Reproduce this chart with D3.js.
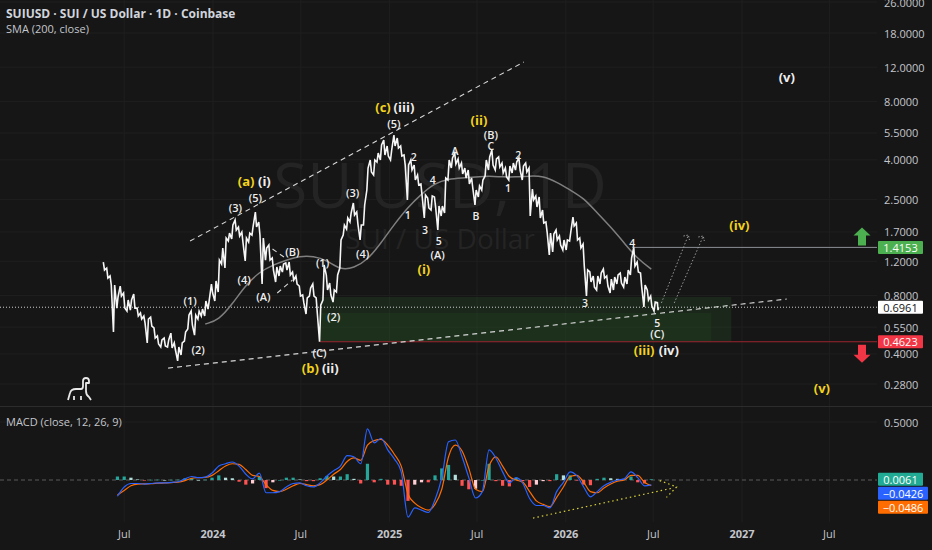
<!DOCTYPE html>
<html><head><meta charset="utf-8">
<script src="https://cdn.jsdelivr.net/npm/d3@7"></script>
<style>html,body{margin:0;padding:0;background:#161616;}svg{display:block}</style>
</head><body><svg id="c" width="932" height="550"></svg>
<script>
// ---------- DATA ----------
const startWeek = "2023-05-20"; // first weekly bar
const weekHigh = [1.190,1.108,1.008,0.906,0.786,0.895,0.824,0.758,0.758,0.814,
0.689,0.650,0.627,0.605,0.619,0.544,0.495,0.472,0.483,0.472,
0.512,0.456,0.434,0.456,0.519,0.634,0.665,0.634,0.665,0.681,
0.749,0.758,0.917,0.950,1.218,1.405,1.582,1.678,1.845,1.958,
1.802,1.698,1.582,1.678,1.824,2.153,1.912,1.582,1.405,1.456,
1.248,1.121,1.134,1.162,1.176,1.190,1.057,1.008,0.895,0.805,
0.777,0.874,0.917,0.777,0.714,1.148,1.020,0.927,0.854,1.020,
1.545,1.845,2.006,2.128,2.396,2.153,1.845,2.340,3.629,3.990,
3.990,4.336,4.768,5.059,4.712,4.493,5.368,5.180,4.712,4.235,
3.761,3.990,3.761,3.340,3.002,2.634,2.542,2.603,2.573,2.313,
2.313,3.224,3.990,4.087,4.336,4.039,3.851,3.629,3.544,3.224,
2.795,2.932,3.148,3.990,4.135,4.493,4.039,4.135,3.851,3.629,
3.716,3.851,3.897,4.087,3.716,3.851,3.629,2.830,2.603,2.573,
2.205,1.912,1.678,1.658,1.739,1.620,1.545,1.545,1.698,2.029,
1.890,1.582,1.473,1.082,1.057,1.008,1.008,1.044,1.095,1.008,
0.972,0.996,1.020,1.044,0.996,1.082,1.248,1.4153,1.190,1.044,
0.906,0.854,0.795,0.740,0.735];
const weekLow = [1.082,0.984,0.906,0.519,0.689,0.795,0.689,0.665,0.673,0.689,
0.627,0.605,0.577,0.456,0.557,0.483,0.450,0.434,0.440,0.434,
0.429,0.419,0.368,0.395,0.466,0.538,0.564,0.500,0.605,0.627,
0.627,0.681,0.824,0.749,0.834,1.162,1.108,1.527,1.563,1.739,
1.620,1.491,1.204,1.509,1.639,1.802,1.639,0.917,1.218,1.218,
1.082,0.939,1.008,1.057,1.082,1.020,0.961,0.917,0.795,0.732,
0.642,0.795,0.795,0.642,0.4623,0.758,0.854,0.805,0.740,0.834,
1.108,1.639,1.760,1.912,2.078,1.867,1.545,1.845,2.795,3.461,
3.340,3.897,3.990,4.235,4.185,3.990,4.712,4.602,4.185,3.761,
2.483,3.544,3.148,2.967,2.603,2.006,2.259,2.205,2.285,1.739,
2.054,2.128,3.148,3.629,3.805,3.629,3.380,3.224,3.002,2.863,
2.340,2.573,2.795,3.301,3.544,3.761,3.544,3.672,3.420,3.262,
3.148,3.420,3.544,3.544,3.148,3.461,2.054,2.483,2.285,2.006,
1.890,1.698,1.293,1.340,1.545,1.456,1.372,1.372,1.527,1.824,
1.545,1.405,1.134,0.795,0.939,0.884,0.854,0.917,0.984,0.895,
0.824,0.854,0.917,0.927,0.884,0.917,1.020,1.134,1.057,0.884,
0.698,0.758,0.706,0.665,0.672];
const lastClose = 0.6961;

const smaStartWeek = 30, smaStep = 4;
const sma200 = [0.570,0.598,0.723,0.906,1.057,1.148,1.218,1.278,1.278,1.218,
1.082,1.108,1.218,1.491,1.867,2.285,2.666,3.038,3.186,3.224,
3.262,3.301,3.262,3.262,3.301,3.301,3.074,2.795,2.542,2.128,
1.802,1.491,1.233,1.095];

const macdStartWeek = 4, macdStep = 2;
const macdLine = [-0.14,-0.06,-0.03,-0.03,-0.035,-0.03,-0.025,-0.025,-0.02,-0.015,
0.01,0.03,0.02,0.025,0.06,0.12,0.14,0.155,0.12,0.05,
0.01,0.06,-0.11,-0.11,-0.10,-0.06,-0.03,-0.025,-0.05,-0.06,
-0.025,0.035,0.08,0.12,0.21,0.20,0.14,0.44,0.32,0.36,
0.26,0.18,0.07,-0.32,-0.24,-0.26,-0.28,-0.17,0.02,0.33,
0.345,0.20,0.02,-0.155,-0.10,0.26,0.19,0.07,-0.025,0.02,
-0.03,-0.16,-0.22,-0.22,-0.24,-0.10,-0.02,0.07,0.035,-0.06,
-0.145,-0.10,-0.05,-0.02,0.0,0.01,0.07,0.02,-0.05,-0.0426];
const signalLine = [-0.13,-0.09,-0.05,-0.035,-0.033,-0.032,-0.028,-0.025,-0.022,-0.018,
-0.005,0.015,0.02,0.022,0.04,0.08,0.12,0.14,0.135,0.09,
0.04,0.03,-0.04,-0.09,-0.10,-0.08,-0.05,-0.03,-0.04,-0.05,
-0.04,0.0,0.05,0.09,0.16,0.19,0.17,0.30,0.34,0.35,
0.30,0.22,0.12,-0.12,-0.20,-0.24,-0.26,-0.21,-0.08,0.20,
0.30,0.25,0.10,-0.08,-0.10,0.12,0.20,0.12,0.03,0.0,
-0.02,-0.10,-0.18,-0.21,-0.23,-0.15,-0.06,0.03,0.04,-0.02,
-0.10,-0.11,-0.07,-0.035,-0.01,0.0,0.04,0.04,-0.02,-0.0486];
const macdHist = [0.03,0.03,0.02,0.005,-0.002,0.002,0.003,0.0,0.002,0.003,
0.015,0.015,0.0,0.003,0.02,0.04,0.02,0.015,-0.015,-0.04,
-0.03,0.03,-0.07,-0.02,0.0,0.02,0.02,0.005,-0.01,-0.01,
0.015,0.035,0.03,0.03,0.05,0.01,-0.03,0.14,-0.02,0.01,
-0.04,-0.04,-0.05,-0.18,-0.04,-0.02,-0.02,0.04,0.10,0.13,
0.045,-0.05,-0.08,-0.075,0.0,0.14,-0.01,-0.05,-0.055,0.02,
-0.01,-0.06,-0.04,-0.01,-0.01,0.05,0.04,0.04,-0.005,-0.04,
-0.045,0.01,0.02,0.015,0.01,0.01,0.03,-0.02,-0.03,0.0061];

const priceTicks = [26,18,12,8,5.5,4,2.5,1.7,1.2,0.8,0.55,0.4,0.28];
const macdTicks = [0.5];
const targetLevel = 1.4153, stopLevel = 0.4623;

// annotations: [week index, price, text, style: y=yellow, W=large white, w=small white]
const waveLabels = [
 [42.1,3.11,"(a)","y"],[47.5,3.11,"(i)","W"],
 [44.8,2.57,"(5)","w"],[38.9,2.26,"(3)","w"],[41.5,0.972,"(4)","w"],
 [47.2,0.795,"(A)","w"],[55.8,1.356,"(B)","w"],[25.5,0.758,"(1)","w"],
 [27.9,0.424,"(2)","w"],[64.7,1.19,"(1)","w"],[68.0,0.627,"(2)","w"],
 [63.8,0.409,"(C)","w"],[61.1,0.338,"(b)","y"],[67.0,0.338,"(ii)","W"],
 [73.6,2.73,"(3)","w"],[76.6,1.324,"(4)","w"],[85.8,6.12,"(5)","w"],
 [82.6,7.48,"(c)","y"],[88.8,7.48,"(iii)","W"],
 [91.7,4.135,"2","w"],[89.9,2.078,"1","w"],[97.3,3.148,"4","w"],[95.0,1.739,"3","w"],
 [99.1,1.527,"5","w"],[98.8,1.308,"(A)","w"],[94.7,1.095,"(i)","y"],
 [111.0,6.41,"(ii)","y"],[114.5,5.43,"(B)","w"],[114.5,4.71,"C","w"],[103.9,4.44,"A","w"],
 [122.6,4.235,"2","w"],[119.6,2.863,"1","w"],[110.1,2.054,"B","w"],
 [142.4,0.732,"3","w"],[156.4,1.491,"4","w"],[163.8,0.577,"5","w"],[163.8,0.512,"(C)","w"],
 [159.9,0.419,"(iii)","y"],[167.2,0.419,"(iv)","W"],
 [188.1,1.845,"(iv)","y"],[212.5,0.267,"(v)","y"],[202.1,10.68,"(v)","W"]
];
const dashedLines = [
 [[25.5,1.527],[124.3,12.76]],
 [[19.0,0.338],[202.1,0.767]],
 [[49.9,1.388],[53.7,1.248]],
 [[51.3,0.824],[55.8,0.961]]
];
const projections = [
 [[165.0,0.732],[173.0,1.639]],
 [[168.8,0.732],[177.4,1.62]]
];
const zoneBoxes = [
 {w0:64.0,w1:185.7,p0:0.786,p1:0.4623,op:0.17},
 {w0:64.0,w1:179.8,p0:0.650,p1:0.4623,op:0.10}
];
const macdTrend = [[127.0,-0.328],[168.5,-0.069]];
const macdChevron = [[164.5,-0.005],[169.5,-0.06],[166.5,-0.15]];

// ---------- SCALES ----------
const svg = d3.select("#c");
const W = 932, plotR = 877;
const start = new Date(startWeek + "T00:00:00Z");
const wDate = w => new Date(start.getTime() + w * 7 * 864e5);
const x = d3.scaleUtc().domain([new Date(Date.UTC(2024,0,1)), new Date(Date.UTC(2027,0,1))]).range([213, 742]);
const xw = w => x(wDate(w));
const y = d3.scaleLog().domain([0.28, 26]).range([384, 2]);
const ym = d3.scaleLinear().domain([0, 0.5]).range([480, 422]);
const FONT = "'Open Sans','Noto Sans',sans-serif";
const YEL = "#f2d21c", WHT = "#eeeeee", TXT = "#c4c6cc";

svg.append("rect").attr("width", W).attr("height", 550).attr("fill", "#161616");

// grid
const tTicks = d3.utcMonth.every(6).range(new Date(Date.UTC(2023,6,1)), new Date(Date.UTC(2027,7,1)));
svg.append("g").selectAll("line").data(tTicks).join("line")
  .attr("x1", d => x(d)).attr("x2", d => x(d)).attr("y1", 0).attr("y2", 522)
  .attr("stroke", "#1f1f1f");
svg.append("g").selectAll("line").data(priceTicks).join("line")
  .attr("x1", 0).attr("x2", plotR).attr("y1", d => y(d)).attr("y2", d => y(d)).attr("stroke", "#1f1f1f");
svg.append("g").selectAll("line").data(macdTicks).join("line")
  .attr("x1", 0).attr("x2", plotR).attr("y1", d => ym(d)).attr("y2", d => ym(d)).attr("stroke", "#1f1f1f");
svg.append("line").attr("x1", 0).attr("x2", W).attr("y1", 406.5).attr("y2", 406.5).attr("stroke", "#2c2c2c");

// watermark
svg.append("text").attr("x", 440).attr("y", 208).attr("text-anchor", "middle")
  .attr("font-family", FONT).attr("font-size", 62).attr("fill", "#242424").text("SUIUSD, 1D");
svg.append("text").attr("x", 440).attr("y", 249).attr("text-anchor", "middle")
  .attr("font-family", FONT).attr("font-size", 28).attr("fill", "#242424").text("SUI / US Dollar");

// zones
zoneBoxes.forEach(b => {
  svg.append("rect").attr("x", xw(b.w0)).attr("y", y(b.p0))
    .attr("width", xw(b.w1) - xw(b.w0)).attr("height", y(b.p1) - y(b.p0))
    .attr("fill", "#2e7d32").attr("opacity", b.op);
});

// level lines
svg.append("line").attr("x1", xw(156.3)).attr("x2", plotR).attr("y1", y(targetLevel)).attr("y2", y(targetLevel))
  .attr("stroke", "#8c8f96").attr("stroke-width", 1);
svg.append("line").attr("x1", xw(64)).attr("x2", plotR).attr("y1", y(stopLevel)).attr("y2", y(stopLevel))
  .attr("stroke", "#9b2530").attr("stroke-width", 1.2);
svg.append("line").attr("x1", 0).attr("x2", plotR).attr("y1", y(lastClose)).attr("y2", y(lastClose))
  .attr("stroke", "#cfcfcf").attr("stroke-dasharray", "1,2").attr("stroke-width", 1);

// dashed trend lines
const lineP = d3.line().x(d => xw(d[0])).y(d => y(d[1]));
dashedLines.forEach(l => svg.append("path").attr("d", lineP(l)).attr("fill", "none")
  .attr("stroke", "#d8d8d8").attr("stroke-width", 1.1).attr("stroke-dasharray", "5,4"));
projections.forEach(l => {
  svg.append("path").attr("d", lineP(l)).attr("fill", "none")
    .attr("stroke", "#9a9a9a").attr("stroke-width", 1).attr("stroke-dasharray", "1.5,2");
  const a = [xw(l[1][0]), y(l[1][1])];
  svg.append("path").attr("d", `M${a[0]-5},${a[1]+1}L${a[0]},${a[1]}L${a[0]+1},${a[1]+5}`)
    .attr("fill", "none").attr("stroke", "#9a9a9a").attr("stroke-dasharray", "1.5,1.5");
});

// SMA
const smaPts = sma200.map((v, i) => [smaStartWeek + i * smaStep, v]);
svg.append("path").attr("d", d3.line().x(d => xw(d[0])).y(d => y(d[1])).curve(d3.curveBasis)(smaPts))
  .attr("fill", "none").attr("stroke", "#7f7f7f").attr("stroke-width", 1.5);

// price path
const pts = [];
weekHigh.forEach((h, k) => {
  const l = weekLow[k];
  const cx = xw(k);
  if (k === weekHigh.length - 1) { pts.push([cx - 0.6, y(h)]); pts.push([cx, y(l)]); pts.push([cx + 0.6, y(lastClose)]); return; }
  const mid = Math.sqrt(h * l), nmid = Math.sqrt(weekHigh[k+1] * weekLow[k+1]);
  if (nmid >= mid) { pts.push([cx - 0.6, y(l)]); pts.push([cx + 0.6, y(h)]); }
  else { pts.push([cx - 0.6, y(h)]); pts.push([cx + 0.6, y(l)]); }
});
svg.append("path").attr("d", d3.line()(pts)).attr("fill", "none").attr("stroke", "#f6f6f6")
  .attr("stroke-width", 1.6).attr("stroke-linejoin", "miter");

// wave labels
svg.append("g").selectAll("text").data(waveLabels).join("text")
  .attr("x", d => xw(d[0])).attr("y", d => y(d[1])).attr("text-anchor", "middle")
  .attr("dominant-baseline", "central").attr("font-family", FONT)
  .attr("font-weight", d => d[3] === "w" ? 600 : 700)
  .attr("font-size", d => d[3] !== "w" ? 13 : (d[2].length === 1 ? 10.5 : 11))
  .attr("fill", d => d[3] === "y" ? YEL : WHT).text(d => d[2]);

// price axis labels
svg.append("g").selectAll("text").data(priceTicks).join("text")
  .attr("x", 884).attr("y", d => y(d)).attr("dominant-baseline", "central")
  .attr("font-family", FONT).attr("font-size", 11).attr("fill", TXT).text(d => d.toFixed(4));

// badges
function badge(cy, txt, bg, fg, w) {
  svg.append("rect").attr("x", 878).attr("y", cy - 6.5).attr("width", w).attr("height", 13).attr("fill", bg).attr("rx", 1);
  svg.append("text").attr("x", 878 + w / 2).attr("y", cy).attr("text-anchor", "middle").attr("dominant-baseline", "central")
    .attr("font-family", FONT).attr("font-size", 11).attr("fill", fg).text(txt);
}
badge(y(targetLevel), targetLevel.toFixed(4), "#4caf50", "#ffffff", 45);
badge(y(lastClose), lastClose.toFixed(4), "#ffffff", "#131313", 45);
badge(y(stopLevel), stopLevel.toFixed(4), "#f23645", "#ffffff", 45);

// arrows
function arrow(cx, tipY, dir, col) {
  const s = dir; // -1 up, 1 down
  const base = tipY - s * 18;
  const head = tipY - s * 8;
  svg.append("path").attr("d",
    `M${cx},${tipY}L${cx-8.5},${head}L${cx-4},${head}L${cx-4},${base}L${cx+4},${base}L${cx+4},${head}L${cx+8.5},${head}Z`)
    .attr("fill", col);
}
arrow(862, y(targetLevel) - 20, -1, "#4caf50");
arrow(862, y(stopLevel) + 21, 1, "#f23645");

// header
svg.append("text").attr("x", 6).attr("y", 18).attr("font-family", FONT).attr("font-size", 12).attr("font-weight", 700)
  .attr("fill", "#d1d4dc").text("SUIUSD · SUI / US Dollar · 1D · Coinbase");
svg.append("text").attr("x", 6).attr("y", 33).attr("font-family", FONT).attr("font-size", 11)
  .attr("fill", "#c4c6cc").text("SMA (200, close)");

// dino logo (decorative)
svg.append("path").attr("transform", "translate(66,378)")
  .attr("d", "M2,22 L4,15 Q5,11 10,11 L15,11 Q17,11 17,8 L17,3 Q17,0 20,0 Q23,0 23,3 L23,5 L20,5 L20,13 Q20,17 23,19 L25,22 M8,22 L8,18 M15,22 L15,18")
  .attr("fill", "none").attr("stroke", "#e8e8e8").attr("stroke-width", 1.8).attr("stroke-linejoin", "round");

// ---------- MACD ----------
svg.append("text").attr("x", 6).attr("y", 426).attr("font-family", FONT).attr("font-size", 11)
  .attr("fill", "#c4c6cc").text("MACD (close, 12, 26, 9)");
svg.append("line").attr("x1", 0).attr("x2", plotR).attr("y1", ym(0)).attr("y2", ym(0))
  .attr("stroke", "#5a5a5a").attr("stroke-dasharray", "4,3");
const mw = i => macdStartWeek + i * macdStep;
svg.append("g").selectAll("rect").data(macdHist).join("rect")
  .attr("x", (d, i) => xw(mw(i)) - 1.6).attr("width", 3.2)
  .attr("y", d => Math.min(ym(d), ym(0))).attr("height", d => Math.max(0.6, Math.abs(ym(d) - ym(0))))
  .attr("fill", (d, i) => {
    const p = i > 0 ? macdHist[i-1] : 0;
    if (d >= 0) return d >= p ? "#26a69a" : "#b2dfdb";
    return d <= p ? "#ff5252" : "#ffcdd2";
  });
const ml = d3.line().x((d, i) => xw(mw(i))).y(d => ym(d)).curve(d3.curveMonotoneX);
svg.append("path").attr("d", ml(signalLine)).attr("fill", "none").attr("stroke", "#ff6d00").attr("stroke-width", 1.2);
svg.append("path").attr("d", ml(macdLine)).attr("fill", "none").attr("stroke", "#2962ff").attr("stroke-width", 1.2);
const mlp = d3.line().x(d => xw(d[0])).y(d => ym(d[1]));
svg.append("path").attr("d", mlp(macdTrend)).attr("fill", "none").attr("stroke", "#d8d23a")
  .attr("stroke-width", 1.2).attr("stroke-dasharray", "1.5,3");
svg.append("path").attr("d", mlp(macdChevron)).attr("fill", "none").attr("stroke", "#d8d23a")
  .attr("stroke-width", 1.2).attr("stroke-dasharray", "1.5,3");

svg.append("g").selectAll("text").data(macdTicks).join("text")
  .attr("x", 884).attr("y", d => ym(d)).attr("dominant-baseline", "central")
  .attr("font-family", FONT).attr("font-size", 11).attr("fill", TXT).text(d => d.toFixed(4));
// stacked value badges
const lastHist = macdHist[macdHist.length-1], lastM = macdLine[macdLine.length-1], lastS = signalLine[signalLine.length-1];
const mb = [[lastHist, "#22ab94", 45], [lastM, "#2962ff", 50], [lastS, "#ff6d00", 50]];
let prevY = -1e9;
mb.forEach(([v, col, w]) => {
  let cy = Math.max(ym(v), prevY + 14);
  prevY = cy;
  badge(cy, (v < 0 ? "\u2212" : "") + Math.abs(v).toFixed(4), col, "#ffffff", w);
});

// time axis labels
svg.append("g").selectAll("text").data(tTicks).join("text")
  .attr("x", d => x(d)).attr("y", 538).attr("text-anchor", "middle")
  .attr("font-family", FONT).attr("font-size", 11)
  .attr("font-weight", d => d.getUTCMonth() === 0 ? 700 : 400)
  .attr("fill", TXT).text(d => d.getUTCMonth() === 0 ? d.getUTCFullYear() : "Jul");
</script></body></html>
